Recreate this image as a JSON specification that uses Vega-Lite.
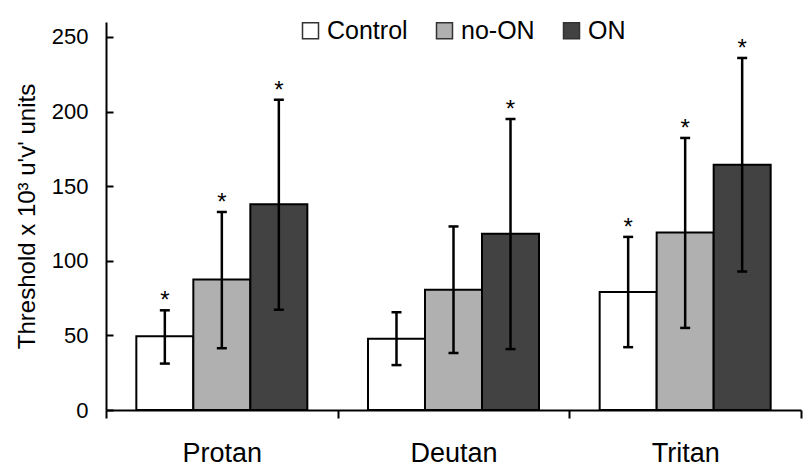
{
  "$schema": "https://vega.github.io/schema/vega-lite/v6.json",
  "width": 695,
  "height": 388,
  "autosize": {"type": "none"},
  "padding": {"left": 106, "top": 22, "right": 4, "bottom": 56},
  "config": {
    "view": {"stroke": null},
    "font": "Liberation Sans",
    "axis": {"domainColor": "black", "domainWidth": 2, "tickColor": "black", "tickWidth": 2, "grid": false, "labelColor": "black", "titleColor": "black", "labelFont": "Liberation Sans", "titleFont": "Liberation Sans"}
  },
  "resolve": {"axis": {"y": "independent"}},
  "data": {
    "values": [
      {"group": "Protan", "type": "Control", "mean": 49.4, "lo": 31.1, "hi": 66.8, "star": "*"},
      {"group": "Protan", "type": "no-ON", "mean": 87.4, "lo": 41.4, "hi": 132.7, "star": "*"},
      {"group": "Protan", "type": "ON", "mean": 137.9, "lo": 67.2, "hi": 207.9, "star": "*"},
      {"group": "Deutan", "type": "Control", "mean": 47.7, "lo": 30.1, "hi": 65.5, "star": ""},
      {"group": "Deutan", "type": "no-ON", "mean": 80.5, "lo": 38.2, "hi": 123.0, "star": ""},
      {"group": "Deutan", "type": "ON", "mean": 118.1, "lo": 40.8, "hi": 195.0, "star": "*"},
      {"group": "Tritan", "type": "Control", "mean": 79.0, "lo": 42.1, "hi": 116.0, "star": "*"},
      {"group": "Tritan", "type": "no-ON", "mean": 119.0, "lo": 55.0, "hi": 182.3, "star": "*"},
      {"group": "Tritan", "type": "ON", "mean": 164.3, "lo": 92.8, "hi": 235.9, "star": "*"}
    ]
  },
  "encoding": {
    "x": {
      "field": "group",
      "type": "nominal",
      "sort": ["Protan", "Deutan", "Tritan"],
      "scale": {"paddingInner": 0, "paddingOuter": 0},
      "axis": {"title": null, "labelAngle": 0, "labelFontSize": 27, "labelPadding": 22, "tickBand": "extent", "tickSize": 8, "labelDx": 7}
    },
    "xOffset": {
      "field": "type",
      "type": "nominal",
      "sort": ["Control", "no-ON", "ON"],
      "scale": {"paddingInner": 0, "paddingOuter": 0.532}
    }
  },
  "layer": [
    {
      "mark": {"type": "bar", "stroke": "black", "strokeWidth": 2},
      "encoding": {
        "y": {
          "field": "mean",
          "type": "quantitative",
          "scale": {"domain": [0, 250]},
          "axis": {"title": "Threshold x 10³ u'v' units", "titleFontSize": 24, "titleFontWeight": "normal", "titlePadding": 12, "labelFontSize": 22, "values": [0, 50, 100, 150, 200, 250], "ticks": false, "labelPadding": 18}
        },
        "color": {
          "field": "type",
          "type": "nominal",
          "sort": ["Control", "no-ON", "ON"],
          "scale": {"domain": ["Control", "no-ON", "ON"], "range": ["#ffffff", "#b0b0b0", "#424242"]},
          "legend": {
            "title": null,
            "orient": "none",
            "direction": "horizontal",
            "legendX": 192,
            "legendY": -4,
            "symbolType": "square",
            "symbolSize": 256,
            "symbolStrokeColor": "#333333",
            "symbolStrokeWidth": 1.5,
            "symbolOpacity": 1,
            "labelFontSize": 25,
            "labelColor": "black",
            "labelFont": "Liberation Sans",
            "labelOffset": 4,
            "columnPadding": 24
          }
        }
      }
    },
    {
      "mark": {"type": "rule", "color": "black", "strokeWidth": 2.5},
      "encoding": {
        "y": {
          "field": "lo",
          "type": "quantitative",
          "axis": {"orient": "right", "offset": -695, "domain": false, "labels": false, "title": null, "tickSize": 7, "values": [0, 50, 100, 150, 200, 250]}
        },
        "y2": {"field": "hi"}
      }
    },
    {
      "mark": {"type": "tick", "color": "black", "thickness": 2.5, "size": 10, "opacity": 1},
      "encoding": {"y": {"field": "hi", "type": "quantitative", "axis": null}}
    },
    {
      "mark": {"type": "tick", "color": "black", "thickness": 2.5, "size": 10, "opacity": 1},
      "encoding": {"y": {"field": "lo", "type": "quantitative", "axis": null}}
    },
    {
      "mark": {"type": "text", "fontSize": 24, "baseline": "alphabetic", "dy": -2, "color": "black"},
      "encoding": {
        "y": {"field": "hi", "type": "quantitative", "axis": null},
        "text": {"field": "star"}
      }
    }
  ]
}
